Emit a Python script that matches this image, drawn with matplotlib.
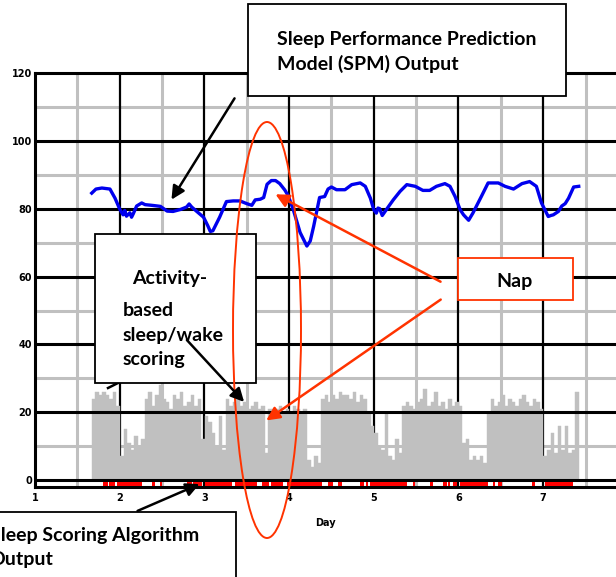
import numpy as np
import matplotlib.pyplot as plt
from matplotlib.patches import Rectangle, Ellipse, FancyArrowPatch

# SPM model output (blue line)
spm_day = [1.67, 1.72, 1.79, 1.885, 1.945, 2.0, 2.04, 2.06, 2.08, 2.12, 2.14, 2.16, 2.2, 2.26,
           2.3, 2.38, 2.48, 2.56, 2.63, 2.72, 2.79, 2.82, 2.85, 2.91, 2.99, 3.04, 3.07, 3.1,
           3.18, 3.26, 3.34, 3.42, 3.5, 3.56, 3.6, 3.66, 3.7, 3.74, 3.79, 3.84, 3.89, 3.95,
           3.99, 4.05, 4.13, 4.21, 4.25, 4.29, 4.36, 4.42, 4.46, 4.5, 4.56, 4.66, 4.74, 4.84,
           4.9, 4.96, 5.0, 5.03, 5.05, 5.07, 5.1, 5.17, 5.23, 5.31, 5.39, 5.49, 5.58, 5.66,
           5.74, 5.84, 5.9, 5.96, 6.02, 6.06, 6.12, 6.17, 6.27, 6.35, 6.47, 6.55, 6.65, 6.75,
           6.84, 6.92, 6.98, 7.02, 7.06, 7.09, 7.12, 7.18, 7.22, 7.26, 7.3, 7.36, 7.42]
spm_val = [84.6, 85.8, 86.1, 85.8, 83.1, 79.9, 78.2, 79.5, 77.8, 78.8, 77.5, 78.5, 80.8, 81.7,
           81.2, 81.0, 80.7, 79.3, 79.2, 79.8, 80.5, 81.4, 80.5, 79.2, 77.5, 75.0, 73.3, 73.5,
           77.5, 82.1, 82.3, 82.3, 81.5, 81.0, 82.6, 82.8, 83.3, 87.2, 88.3, 88.3, 87.4, 85.5,
           83.8, 79.7, 73.0, 69.0, 70.5, 74.8, 83.3, 83.6, 85.8, 86.4, 85.6, 85.6, 87.1, 87.6,
           86.6, 83.1, 79.7, 78.7, 80.2, 80.0, 78.0, 80.5, 82.6, 85.1, 87.1, 86.6, 85.4, 85.4,
           86.6, 87.4, 86.6, 83.6, 79.7, 78.2, 76.6, 78.7, 83.6, 87.6, 87.6, 86.6, 85.8, 87.4,
           88.0, 86.6, 81.7, 79.7, 77.7, 78.0, 78.2, 79.2, 80.8, 81.5, 83.1, 86.4, 86.6]

# hourly activity counts starting at day 1.67
act_start = 1.67
activity = [24, 26, 25, 26, 25, 24, 26, 22,
            7, 15, 11, 9, 13, 10, 12,
            24, 26, 22, 25, 28, 24, 23, 21, 25, 24, 26, 22, 23, 25, 22, 24,
            12, 19, 17, 14, 10, 19, 9, 24, 22,
            23, 24, 22, 23, 21, 22, 23, 21,
            22, 8, 21, 21, 21, 22, 20, 21,
            20, 22, 21, 20, 21,
            6, 4, 7, 5,
            24, 25, 23, 25, 24, 26, 25,
            25, 24, 26, 23, 25, 24, 20,
            16, 14, 10, 9, 20, 7, 6, 12, 8,
            22, 23, 22, 21, 23, 24, 27, 22, 23, 26, 22, 23, 21, 24, 22, 23,
            22, 11, 12, 6, 7, 6, 7, 5,
            20, 24, 22, 23, 25, 22, 24, 23, 22, 24, 25, 23, 22, 24, 23, 21,
            7, 9, 14, 8, 16, 9, 16, 8, 9, 26]

# sleep scoring algorithm output (red marks)
sleep_start = [1.80, 1.87, 1.97, 2.38, 2.48, 2.80, 2.87, 3.01, 3.36, 3.68, 3.79, 3.98, 4.46,
               4.58, 4.84, 4.91, 4.96, 5.46, 5.66, 5.82, 5.88, 5.94, 6.02, 6.41, 6.47, 6.87, 7.02]
sleep_end = [1.86, 1.95, 2.26, 2.42, 2.50, 2.85, 2.97, 3.33, 3.62, 3.76, 3.93, 4.39, 4.52,
             4.63, 4.88, 4.93, 5.39, 5.49, 5.70, 5.86, 5.90, 5.98, 6.35, 6.43, 6.51, 6.90, 7.35]

day_ticks = [1, 2, 3, 4, 5, 6, 7]
y_ticks = [0, 20, 40, 60, 80, 100, 120]

W, H = 616, 577
fig = plt.figure(figsize=(W / 100, H / 100), dpi=100)
ax = fig.add_axes([35 / W, (H - 487.3) / H, 581 / W, 414.3 / H])
ax.set_xlim(1, 7.86)
ax.set_ylim(-2.1, 120)

gray = '#c0c0c0'
for y in [10, 30, 50, 70, 90, 110]:
    ax.axhline(y, color=gray, lw=2.2, zorder=0.5)
for x in np.arange(1.5, 8, 1.0):
    ax.axvline(x, color=gray, lw=2.2, zorder=0.5)
for x in day_ticks[1:]:
    ax.axvline(x, color='black', lw=1.6, zorder=1)

hours = act_start + np.arange(len(activity)) / 24
ax.bar(hours, activity, width=1 / 24, align='edge', color=gray, edgecolor=gray,
       linewidth=0.3, zorder=2)

for y in y_ticks[:-1]:
    ax.axhline(y, color='black', lw=2.2, zorder=3)

ax.broken_barh([(s, e - s) for s, e in zip(sleep_start, sleep_end)], (-1.7, 1.3),
               facecolors='#ff0000', zorder=3)

ax.plot(spm_day, spm_val, color='#0000ee', lw=2.4, zorder=4)

for s in ['top', 'left', 'bottom']:
    ax.spines[s].set_linewidth(2.2)
ax.spines['right'].set_visible(False)
ax.set_xticks(day_ticks)
ax.set_yticks(y_ticks)
ax.set_xticklabels([str(d) for d in day_ticks], fontsize=7, fontweight='bold')
ax.set_yticklabels([str(v) for v in y_ticks], fontsize=7, fontweight='bold')
ax.tick_params(length=0, pad=4)
ax.tick_params(axis='y', pad=2)
ax.set_xlabel('Day', fontsize=7, fontweight='bold', labelpad=11)


def F(x, y):
    # pixel position (from top-left) -> figure fraction
    return (x / W, 1 - y / H)


def box(x0, y0, x1, y1, ec='black'):
    r = Rectangle(F(x0, y1), (x1 - x0) / W, (y1 - y0) / H, transform=fig.transFigure,
                  facecolor='white', edgecolor=ec, lw=1.3, zorder=10)
    fig.add_artist(r)


def arrow(p0, p1, color='black'):
    a = FancyArrowPatch(F(*p0), F(*p1), transform=fig.transFigure, arrowstyle='-|>',
                        mutation_scale=20, color=color, lw=1.8, zorder=12)
    fig.add_artist(a)


tfont = dict(family='Lato', fontweight='bold', fontsize=14, zorder=11)
red = '#ff3300'

# SPM box
box(248, 4, 566, 96)
fig.text(*F(277, 40), 'Sleep Performance Prediction', ha='left', va='center', **tfont)
fig.text(*F(277, 64), 'Model (SPM) Output', ha='left', va='center', **tfont)
arrow((236, 96), (170, 202))

# activity box
box(95, 234, 256, 383)
fig.text(*F(170, 279), 'Activity-', ha='center', va='center', **tfont)
fig.text(*F(123, 310), 'based', ha='left', va='center', **tfont)
fig.text(*F(123, 335), 'sleep/wake', ha='left', va='center', **tfont)
fig.text(*F(123, 360), 'scoring', ha='left', va='center', **tfont)
arrow((185, 338), (246, 404))
fig.add_artist(plt.Line2D([118 / W, 108 / W], [1 - 383 / H, 1 - 388 / H],
                          transform=fig.transFigure, color='black', lw=1.8, zorder=9))

# nap
el = Ellipse(F(267, 330), 68 / W, 416 / H, transform=fig.transFigure, fill=False,
             edgecolor=red, lw=1.4, zorder=11)
fig.add_artist(el)
box(458, 258, 573, 300, ec=red)
fig.text(*F(515, 281), 'Nap', ha='center', va='center', **tfont)
arrow((443, 283), (273, 193), color=red)
arrow((443, 298), (264, 422), color=red)

# sleep scoring box (cut off by the figure edge, as in the source image)
box(-10, 512, 236, 600)
fig.text(*F(-10, 535), 'Sleep Scoring Algorithm', ha='left', va='center', **tfont)
fig.text(*F(-11, 560), 'Output', ha='left', va='center', **tfont)
arrow((135, 512), (202, 483))

fig.savefig('out.png', dpi=100)
